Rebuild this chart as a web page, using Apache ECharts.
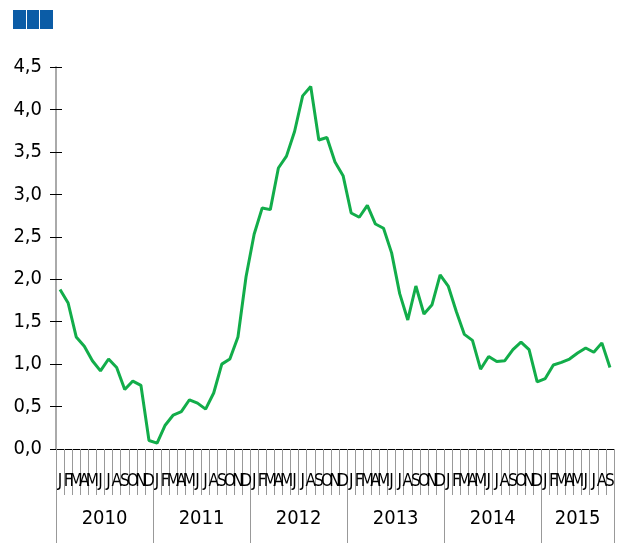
<!DOCTYPE html>
<html>
<head>
<meta charset="utf-8">
<script src="https://cdn.jsdelivr.net/npm/echarts@6/dist/echarts.min.js"></script>
<style>
    html, body {margin: 0; padding: 0; background: #fff;}
    #chart {width: 622px; height: 543px;}
</style>
</head>
<body>
<div id="chart"></div>
<script>
var years = ['2010', '2011', '2012', '2013', '2014', '2015'];
var monthLetters = ['J', 'F', 'M', 'A', 'M', 'J', 'J', 'A', 'S', 'O', 'N', 'D'];
var v2010 = [1.88, 1.72, 1.32, 1.21, 1.04, 0.92, 1.06, 0.96, 0.70, 0.80, 0.75, 0.10];
var v2011 = [0.07, 0.28, 0.40, 0.44, 0.58, 0.54, 0.47, 0.66, 1.00, 1.06, 1.32, 2.03];
var v2012 = [2.53, 2.84, 2.82, 3.31, 3.45, 3.74, 4.16, 4.27, 3.64, 3.67, 3.38, 3.22];
var v2013 = [2.78, 2.73, 2.87, 2.65, 2.60, 2.31, 1.83, 1.52, 1.92, 1.59, 1.70, 2.05];
var v2014 = [1.92, 1.62, 1.35, 1.28, 0.94, 1.09, 1.03, 1.04, 1.17, 1.26, 1.17, 0.79];
var v2015 = [0.83, 0.99, 1.02, 1.06, 1.13, 1.19, 1.14, 1.25, 0.96];
var yTicks = [0, 0.5, 1, 1.5, 2, 2.5, 3, 3.5, 4, 4.5];

var allValues = [v2010, v2011, v2012, v2013, v2014, v2015];
var categories = [];
var values = [];
var yearEdges = [0];
var yearMids = [];
for (var i in allValues) {
    var arr = allValues[i];
    for (var j = 0; j < arr.length; j++) {
        categories.push(monthLetters[j]);
        values.push(arr[j]);
    }
    yearMids.push(yearEdges[yearEdges.length - 1] + arr.length / 2);
    yearEdges.push(values.length);
}

var narrow = "'DejaVu Sans Condensed', 'Liberation Sans Narrow', sans-serif";
var chart = echarts.init(document.getElementById('chart'));
chart.setOption({
    animation: false,
    grid: {left: 56, right: 8, top: 67, bottom: 94},
    graphic: [
        {type: 'rect', left: 13, top: 10, shape: {width: 13, height: 19}, style: {fill: '#0b5ca6'}},
        {type: 'rect', left: 27, top: 10, shape: {width: 12, height: 19}, style: {fill: '#0b5ca6'}},
        {type: 'rect', left: 40, top: 10, shape: {width: 13, height: 19}, style: {fill: '#0b5ca6'}}
    ],
    xAxis: [{
        type: 'category',
        data: categories,
        boundaryGap: true,
        axisLine: {lineStyle: {color: '#000', width: 1}},
        axisTick: {show: true, interval: 0, length: 46, lineStyle: {color: '#999'}},
        axisLabel: {
            interval: 0, margin: 24, color: '#000',
            fontFamily: narrow, fontSize: 17
        },
        splitLine: {show: false}
    }, {
        type: 'value',
        position: 'bottom',
        min: 0,
        max: values.length,
        axisLine: {show: false},
        axisTick: {
            show: true, length: 94, customValues: yearEdges,
            lineStyle: {color: '#999'}
        },
        axisLabel: {
            show: true, margin: 60, color: '#000',
            fontFamily: narrow, fontSize: 20,
            customValues: yearMids,
            formatter: function(val) {
                for (var k = 0; k < yearMids.length; k++) {
                    if (Math.abs(yearMids[k] - val) < 0.01) {
                        return years[k];
                    }
                }
                return '';
            }
        },
        splitLine: {show: false}
    }],
    yAxis: [{
        type: 'value',
        min: yTicks[0],
        max: yTicks[yTicks.length - 1],
        interval: 0.5,
        axisLine: {show: true, lineStyle: {color: '#aaa', width: 2}},
        axisTick: {show: true, length: 6, lineStyle: {color: '#000'}},
        axisLabel: {
            margin: 14, color: '#000', fontFamily: narrow, fontSize: 20,
            formatter: function(v) {
                return v.toFixed(1).replace('.', ',');
            }
        },
        splitLine: {show: false}
    }, {
        type: 'value',
        position: 'left',
        min: yTicks[0],
        max: yTicks[yTicks.length - 1],
        interval: 0.5,
        axisLine: {show: false},
        axisTick: {show: true, inside: true, length: 6, lineStyle: {color: '#000'}},
        axisLabel: {show: false},
        splitLine: {show: false}
    }],
    series: [{
        type: 'line',
        data: values,
        xAxisIndex: 0,
        yAxisIndex: 0,
        symbol: 'none',
        lineStyle: {color: '#12ad4a', width: 3}
    }]
});
</script>
</body>
</html>
